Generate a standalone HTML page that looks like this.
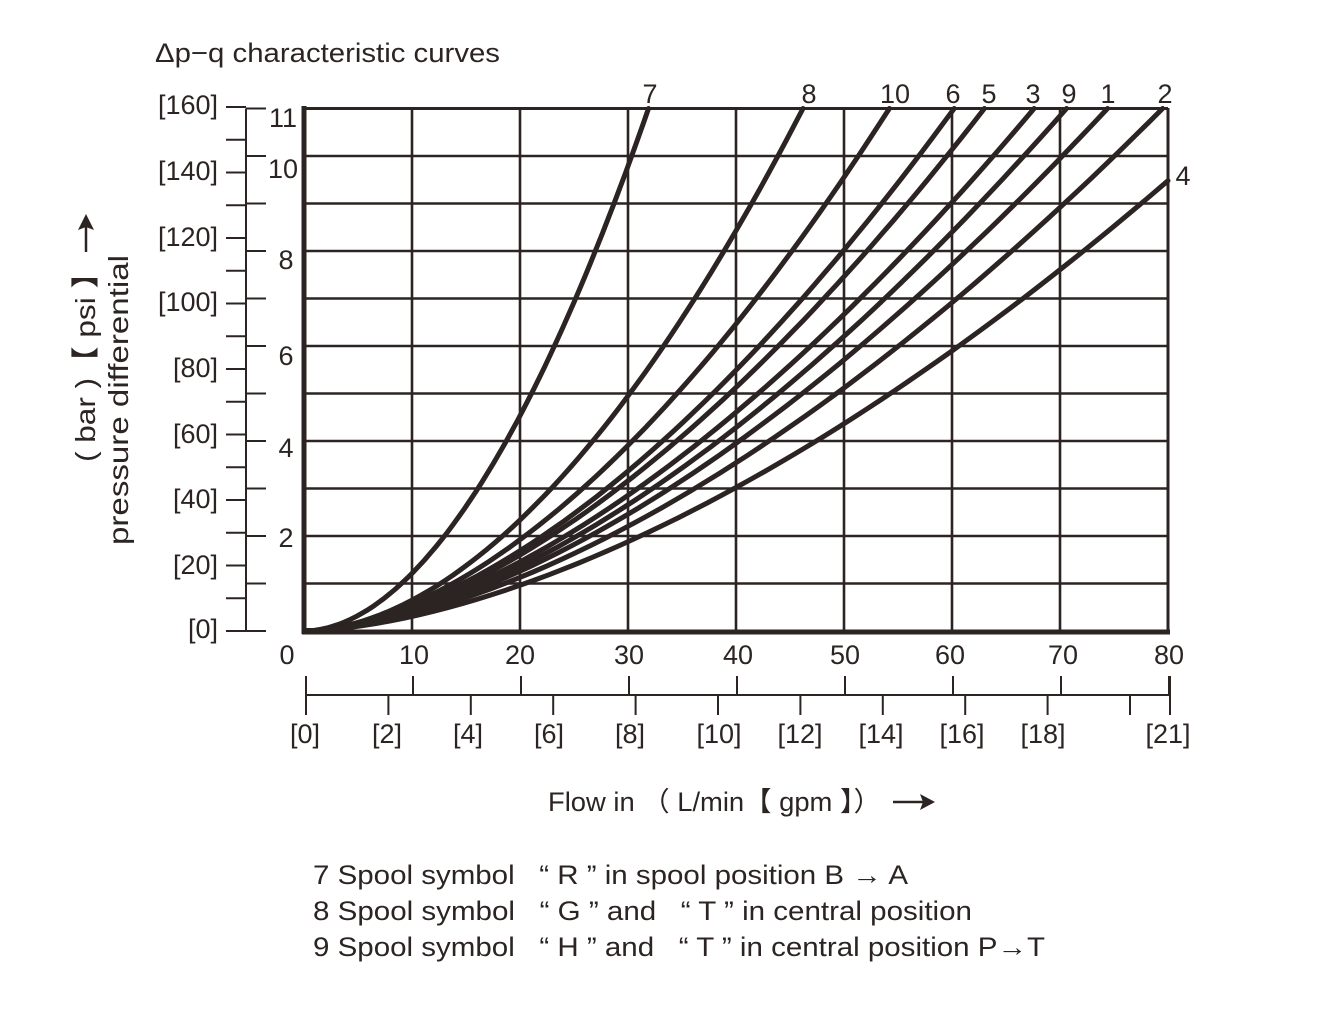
<!DOCTYPE html>
<html><head><meta charset="utf-8"><style>
html,body{margin:0;padding:0;background:#fff}
svg{display:block}
text{font-family:"Liberation Sans","Noto Sans CJK SC",sans-serif;fill:#2b2422;white-space:pre}
</style></head><body>
<svg id="s" width="1343" height="1023" viewBox="0 0 1343 1023" xmlns="http://www.w3.org/2000/svg" xml:space="preserve">
<text x="155" y="62" font-size="27" textLength="345" lengthAdjust="spacingAndGlyphs">Δp−q characteristic curves</text>
<g id="grid" stroke="#2b2422" stroke-width="2.6" fill="none"></g>
<g id="curves" stroke="#2b2422" stroke-width="5" fill="none" stroke-linecap="round"></g>
<g font-size="27" text-anchor="middle">
<text x="650" y="103">7</text><text x="809" y="103">8</text><text x="895" y="103">10</text>
<text x="953" y="103">6</text><text x="989" y="103">5</text><text x="1033" y="103">3</text>
<text x="1069" y="103">9</text><text x="1108" y="103">1</text><text x="1165" y="103">2</text>
<text x="1183" y="185">4</text>
</g>
<g font-size="27" text-anchor="end">
<text x="218" y="114">[160]</text><text x="218" y="180">[140]</text><text x="218" y="246">[120]</text>
<text x="218" y="311">[100]</text><text x="218" y="377">[80]</text><text x="218" y="443">[60]</text>
<text x="218" y="508">[40]</text><text x="218" y="574">[20]</text><text x="218" y="638">[0]</text>
</g>
<g font-size="27" text-anchor="middle">
<text x="283" y="127">11</text><text x="283" y="178">10</text><text x="286" y="269">8</text>
<text x="286" y="365">6</text><text x="286" y="457">4</text><text x="286" y="547">2</text>
</g>
<g font-size="27" text-anchor="middle">
<text x="287" y="664">0</text><text x="414" y="664">10</text><text x="520" y="664">20</text>
<text x="629" y="664">30</text><text x="738" y="664">40</text><text x="845" y="664">50</text>
<text x="950" y="664">60</text><text x="1063" y="664">70</text><text x="1169" y="664">80</text>
<text x="305" y="743">[0]</text><text x="387" y="743">[2]</text><text x="468" y="743">[4]</text>
<text x="549" y="743">[6]</text><text x="630" y="743">[8]</text><text x="719" y="743">[10]</text>
<text x="800" y="743">[12]</text><text x="881" y="743">[14]</text><text x="962" y="743">[16]</text>
<text x="1043" y="743">[18]</text><text x="1168" y="743">[21]</text>
</g>
<text x="548" y="811" font-size="27" textLength="333" lengthAdjust="spacingAndGlyphs">Flow in （ L/min【 gpm 】）</text>
<line x1="893" y1="802" x2="928" y2="802" stroke="#2b2422" stroke-width="2.5"/>
<path d="M935,802 L920,794 L923,802 L920,810 Z" fill="#2b2422"/>
<g transform="translate(95,462) rotate(-90)"><text x="0" y="0" font-size="28" textLength="205" lengthAdjust="spacingAndGlyphs">( bar )【 psi 】</text></g>
<line x1="86" y1="252" x2="86" y2="222" stroke="#2b2422" stroke-width="2.5"/>
<path d="M86,214 L78,230 L86,227 L94,230 Z" fill="#2b2422"/>
<g transform="translate(128,545) rotate(-90)"><text x="0" y="0" font-size="28" textLength="290" lengthAdjust="spacingAndGlyphs">pressure differential</text></g>
<g font-size="27">
<text x="313" y="884" textLength="595" lengthAdjust="spacingAndGlyphs">7 Spool symbol   “ R ” in spool position B → A</text>
<text x="313" y="920" textLength="659" lengthAdjust="spacingAndGlyphs">8 Spool symbol   “ G ” and   “ T ” in central position</text>
<text x="313" y="956" textLength="732" lengthAdjust="spacingAndGlyphs">9 Spool symbol   “ H ” and   “ T ” in central position P→T</text>
</g>
</svg>
<script>
var NS="http://www.w3.org/2000/svg";
function L(g,x1,y1,x2,y2,w){var l=document.createElementNS(NS,"line");l.setAttribute("x1",x1);l.setAttribute("y1",y1);l.setAttribute("x2",x2);l.setAttribute("y2",y2);if(w)l.setAttribute("stroke-width",w);g.appendChild(l);}
var g=document.getElementById("grid");
var X=function(q){return 304+q*10.8},Y=function(p){return 631-p*47.5};
for(var i=1;i<=8;i++)L(g,X(i*10),108,X(i*10),632,i==8?3:2.6);
for(var j=1;j<=11;j++)L(g,302,Y(j),1168,Y(j),j==11?3:2.6);
L(g,304,106,304,634,5);L(g,302,632,1170,632,5);
L(g,246,Y(11),246,Y(0),2);
for(var k=0;k<=16;k++){var y=Y(k*10/14.5038);L(g,226,y,246,y,2);}
for(var b=0;b<=11;b++){L(g,246,Y(b),266,Y(b),2);}
L(g,306,695,1170,695,2);
for(var q=0;q<=80;q+=10){L(g,X(q)+(q==0?2:1),676,X(q)+(q==0?2:1),695,2);}
for(var m=0;m<=21;m+=2){L(g,306+m*41.2,695,306+m*41.2,715,2);}
L(g,1170,695,1170,715,2);L(g,1170,676,1170,695,2);
var c=document.getElementById("curves");
var defs=[[31.9,11,1.9],[46.2,11,1.85],[54.2,11,1.75],[60.2,11,1.7],[63,11,1.68],[67.6,11,1.66],[70.6,11,1.66],[74.4,11,1.65],[79.5,11,1.65],[80,9.48,1.65]];
defs.forEach(function(d){var qe=d[0],pe=d[1],n=d[2],s="";for(var t=0;t<=60;t++){var q=qe*t/60,p=pe*Math.pow(q/qe,n);s+=(t?"L":"M")+X(q).toFixed(1)+","+Y(p).toFixed(1);}var pa=document.createElementNS(NS,"path");pa.setAttribute("d",s);c.appendChild(pa);});
</script>
</body></html>
